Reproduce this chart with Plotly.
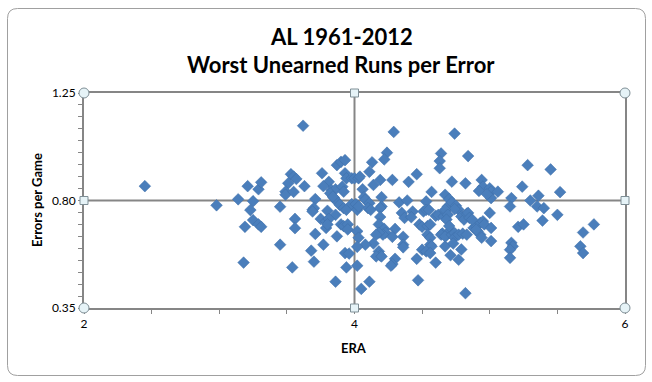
import plotly.graph_objects as go

era = [2.45, 2.98, 3.14, 3.21, 3.29, 3.31, 3.25, 3.23, 3.25, 3.19, 3.29, 3.31, 3.18, 3.45, 3.45, 3.54,
       3.53, 3.55, 3.57, 3.51, 3.49, 3.49, 3.55, 3.56, 3.56,
       3.62, 3.63, 3.76, 3.81, 3.77, 3.87, 3.90, 3.93, 3.93, 3.94, 3.98, 4.00, 4.03, 3.83, 3.86, 3.91, 3.92,
       3.71, 3.85, 3.87, 3.89, 3.92, 3.94, 3.98, 4.01, 3.69, 3.70, 3.69, 3.80, 3.86, 3.75, 3.79, 3.81, 3.79,
       3.90, 3.92, 3.95, 3.95, 3.71, 3.87, 3.77, 3.68, 3.93, 3.96, 3.70, 3.94, 3.86, 4.05, 4.11,
       4.29, 4.24, 4.22, 4.13, 4.11, 4.04, 4.06, 4.14, 4.19, 4.28, 4.40, 4.46, 4.64, 4.63, 4.63, 4.57,
       4.07, 4.08, 4.11, 4.10, 4.12, 4.02, 4.03, 4.20, 4.20, 4.19, 4.33, 4.39, 4.35, 4.37, 4.43, 4.42,
       4.53, 4.51, 4.53, 4.55, 4.60, 4.62, 4.66, 4.67, 4.69, 4.19, 4.18, 4.02, 4.03, 4.22, 4.23, 4.21,
       4.18, 4.16, 4.30, 4.28, 4.36, 4.36, 4.36, 4.48, 4.50, 4.54, 4.56, 4.54, 4.56, 4.56, 4.57, 4.50,
       4.53, 4.56, 4.65, 4.68, 4.67, 4.60, 4.46, 4.14, 4.08, 4.02, 4.18, 4.19, 4.16, 4.20, 4.30, 4.28,
       4.27, 4.02, 4.47, 3.82, 3.84, 3.80,
       4.84, 4.72, 4.82, 4.67, 4.70, 4.72, 4.75, 4.77, 4.74, 4.67, 4.69, 4.68, 4.79, 4.81, 4.83, 4.64,
       4.67, 4.71, 4.72, 4.74, 4.74, 4.77, 4.80, 4.83, 4.73, 4.79, 4.71, 4.77, 4.82,
       4.74, 5.28, 4.94, 4.95, 4.92, 5.00, 5.01, 5.06, 5.01, 5.24, 5.16, 5.15, 5.30, 5.35, 5.36, 4.84,
       4.85, 5.00, 4.88, 4.90, 4.93, 4.95, 4.96, 4.91, 4.93, 4.94, 4.90, 5.01, 4.70, 5.01, 5.21, 5.25,
       5.16, 5.17, 5.15, 5.15, 4.98, 4.87,
       5.45, 5.52, 5.40, 5.39, 5.50, 5.77, 5.69, 5.67, 5.69]

errors_per_game = [0.860, 0.780, 0.805, 0.860, 0.847, 0.876, 0.797, 0.760, 0.718, 0.690, 0.700, 0.690, 0.540, 0.774, 0.615, 0.520,
                   0.910, 0.900, 0.890, 0.872, 0.837, 0.824, 0.836, 0.723, 0.684,
                   1.113, 0.860, 0.914, 0.878, 0.860, 0.948, 0.962, 0.969, 0.914, 0.893, 0.893, 0.893, 0.893, 0.844, 0.847, 0.858, 0.837,
                   0.806, 0.810, 0.796, 0.782, 0.768, 0.761, 0.785, 0.785, 0.761, 0.768, 0.754, 0.757, 0.740, 0.723, 0.713, 0.723, 0.685,
                   0.700, 0.693, 0.700, 0.679, 0.660, 0.650, 0.615, 0.590, 0.580, 0.578, 0.544, 0.520, 0.460, 0.430, 0.460,
                   1.087, 1.000, 0.972, 0.960, 0.920, 0.900, 0.847, 0.865, 0.886, 0.886, 0.878, 0.910, 0.997, 0.965, 0.935, 0.836,
                   0.814, 0.803, 0.789, 0.768, 0.761, 0.761, 0.775, 0.814, 0.775, 0.768, 0.792, 0.800, 0.748, 0.727, 0.754, 0.730,
                   0.796, 0.754, 0.761, 0.761, 0.736, 0.740, 0.733, 0.754, 0.775, 0.731, 0.700, 0.671, 0.644, 0.681, 0.665, 0.657,
                   0.665, 0.657, 0.681, 0.648, 0.648, 0.615, 0.604, 0.700, 0.690, 0.693, 0.700, 0.657, 0.644, 0.615, 0.608, 0.594,
                   0.587, 0.580, 0.662, 0.654, 0.608, 0.540, 0.556, 0.620, 0.615, 0.606, 0.587, 0.569, 0.566, 0.566, 0.556, 0.534,
                   0.527, 0.527, 0.466, 0.830, 0.816, 0.700,
                   0.986, 0.879, 0.872, 0.824, 0.806, 0.792, 0.778, 0.761, 0.764, 0.761, 0.740, 0.720, 0.733, 0.720, 0.745, 0.657,
                   0.650, 0.676, 0.657, 0.664, 0.644, 0.657, 0.661, 0.657, 0.620, 0.595, 0.571, 0.552, 0.412,
                   1.080, 0.948, 0.886, 0.858, 0.840, 0.851, 0.837, 0.837, 0.810, 0.858, 0.810, 0.775, 0.800, 0.775, 0.820, 0.748,
                   0.727, 0.748, 0.685, 0.693, 0.706, 0.713, 0.700, 0.671, 0.657, 0.644, 0.678, 0.685, 0.693, 0.630, 0.690, 0.700,
                   0.623, 0.608, 0.594, 0.560, 0.826, 0.720,
                   0.930, 0.835, 0.768, 0.716, 0.740, 0.700, 0.666, 0.608, 0.580]

x_ticks = [2, 4, 6]
y_ticks = [0.35, 0.80, 1.25]
y_tick_text = ["0.35", "0.80", "1.25"]

W, H = 652, 382
L, R, T, B = 84, 27, 93, 74
AX = "#868686"
FONT = "Lato"

fig = go.Figure()
fig.add_trace(go.Scatter(
    x=era, y=errors_per_game, mode="markers",
    marker=dict(symbol="diamond", size=9, color="#4a7ebb", line=dict(width=0.5, color="#3f6fa8")),
    hoverinfo="x+y", showlegend=False))

def px_x(p):
    return (p - L) / (W - L - R)

def px_y(p):
    return (H - B - p) / (H - T - B)

shapes = []
# crosshair lines
shapes.append(dict(type="line", xref="x", yref="paper", x0=4, x1=4, y0=0, y1=1,
                   line=dict(color=AX, width=2), layer="below"))
shapes.append(dict(type="line", xref="paper", yref="y", x0=0, x1=1, y0=0.8, y1=0.8,
                   line=dict(color=AX, width=2), layer="below"))

# chart frame (rounded)
x0, x1, y0, y1 = px_x(7.5), px_x(645.5), px_y(375.5), px_y(8.5)
rx, ry = 10 / (W - L - R), 10 / (H - T - B)
path = (f"M {x0+rx},{y1} L {x1-rx},{y1} Q {x1},{y1} {x1},{y1-ry} L {x1},{y0+ry} "
        f"Q {x1},{y0} {x1-rx},{y0} L {x0+rx},{y0} Q {x0},{y0} {x0},{y0+ry} L {x0},{y1-ry} "
        f"Q {x0},{y1} {x0+rx},{y1} Z")
shapes.append(dict(type="path", xref="paper", yref="paper", path=path,
                   line=dict(color="#a0a0a0", width=1), layer="below"))

# selection handles (paper-referenced so they are not clipped)
for hx, hy in [(0, 0), (0, 1), (1, 0), (1, 1)]:
    shapes.append(dict(type="circle", xref="paper", yref="paper", xsizemode="pixel", ysizemode="pixel",
                       xanchor=hx, yanchor=hy, x0=-5, x1=5, y0=-5, y1=5,
                       fillcolor="#e6f3f7", line=dict(color="#7f8f96", width=1)))
for hx, hy in [(0.5, 0), (0.5, 1), (0, 0.5), (1, 0.5)]:
    shapes.append(dict(type="rect", xref="paper", yref="paper", xsizemode="pixel", ysizemode="pixel",
                       xanchor=hx, yanchor=hy, x0=-4, x1=4, y0=-4, y1=4,
                       fillcolor="#e6f3f7", line=dict(color="#7f8f96", width=1)))

annotations = [
    dict(text="<b>AL 1961-2012</b>", xref="paper", yref="paper", x=px_x(341), y=px_y(36),
         showarrow=False, font=dict(family=FONT, size=22, color="#000000"), xanchor="center", yanchor="middle"),
    dict(text="<b>Worst Unearned Runs per Error</b>", xref="paper", yref="paper", x=px_x(341), y=px_y(64),
         showarrow=False, font=dict(family=FONT, size=22, color="#000000"), xanchor="center", yanchor="middle"),
    dict(text="<b>Errors per Game</b>", xref="paper", yref="paper", x=px_x(37), y=px_y(200), textangle=-90,
         showarrow=False, font=dict(family=FONT, size=13, color="#000000"), xanchor="center", yanchor="middle"),
    dict(text="<b>ERA</b>", xref="paper", yref="paper", x=px_x(354), y=px_y(348),
         showarrow=False, font=dict(family=FONT, size=13, color="#000000"), xanchor="center", yanchor="middle"),
]

fig.update_layout(
    width=W, height=H, margin=dict(l=L, r=R, t=T, b=B),
    paper_bgcolor="white", plot_bgcolor="white",
    shapes=shapes, annotations=annotations,
    xaxis=dict(range=[2, 6], tickvals=x_ticks, ticktext=[str(v) for v in x_ticks],
               showgrid=False, zeroline=False, showline=True, mirror=True, linecolor=AX, linewidth=2,
               ticks="outside", ticklen=4, tickcolor=AX, tickwidth=1,
               minor=dict(ticks="outside", dtick=0.5, ticklen=4, tickcolor=AX, tickwidth=1, showgrid=False),
               tickfont=dict(family=FONT, size=12, color="#000000")),
    yaxis=dict(range=[0.35, 1.25], tickvals=y_ticks, ticktext=y_tick_text,
               showgrid=False, zeroline=False, showline=True, mirror=True, linecolor=AX, linewidth=2,
               ticks="outside", ticklen=4, tickcolor=AX, tickwidth=1,
               minor=dict(ticks="outside", dtick=0.05, tick0=0.35, ticklen=4, tickcolor=AX, tickwidth=1, showgrid=False),
               tickfont=dict(family=FONT, size=12, color="#000000")),
)

fig.write_html("out.html", config={"displayModeBar": False},
               post_script="document.body.style.margin='0';document.body.style.overflow='hidden';")
